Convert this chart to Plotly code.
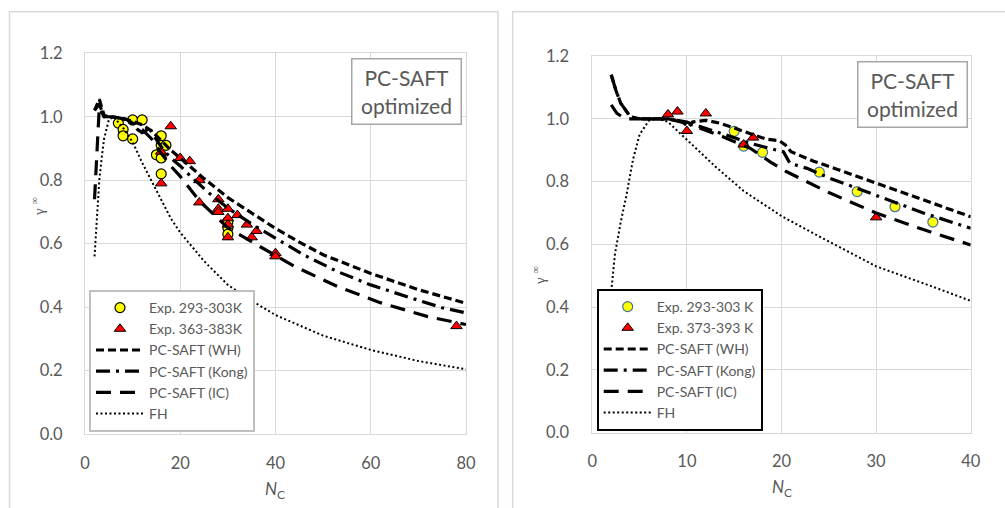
import plotly.graph_objects as go

# ---------------- data: left panel ----------------
L_exp1_x = [7, 8, 8, 10, 10, 12, 15, 16, 16, 16, 16, 17, 30, 30, 30]
L_exp1_y = [0.98, 0.96, 0.94, 0.99, 0.93, 0.99, 0.88, 0.94, 0.91, 0.87, 0.82, 0.91, 0.67, 0.65, 0.63]
L_exp2_x = [16, 16, 18, 20, 22, 24, 24, 28, 28, 28, 30, 30, 30, 30, 32, 34, 35, 36, 40, 40, 78]
L_exp2_y = [0.89, 0.79, 0.97, 0.87, 0.86, 0.80, 0.73, 0.74, 0.71, 0.70, 0.71, 0.68, 0.66, 0.62,
            0.69, 0.66, 0.62, 0.64, 0.57, 0.56, 0.34]
L_wh_x = [2, 3, 4, 5, 8, 10, 12, 14, 16, 18, 20, 25, 30, 35, 40, 45, 50, 60, 70, 80]
L_wh_y = [1.02, 1.055, 1.005, 1.0, 0.995, 0.985, 0.975, 0.955, 0.925, 0.895, 0.87, 0.805, 0.745,
          0.695, 0.648, 0.605, 0.565, 0.506, 0.455, 0.412]
L_kong_x = [2, 3, 4, 6, 9, 10, 11, 12, 12.8, 13.5, 14, 16, 18, 20, 22, 26, 30, 35, 40, 46, 53, 60, 68, 75, 80]
L_kong_y = [1.02, 1.04, 1.0, 1.0, 0.99, 0.975, 0.96, 0.95, 0.955, 0.97, 0.95, 0.905, 0.87, 0.845,
            0.815, 0.76, 0.712, 0.662, 0.617, 0.564, 0.512, 0.47, 0.431, 0.398, 0.382]
L_ic_x = [2, 3, 4, 6, 9, 12, 14, 16, 18, 20, 24, 30, 36, 44, 53, 62, 72, 77, 80]
L_ic_y = [0.74, 1.03, 1.0, 1.0, 0.99, 0.96, 0.93, 0.885, 0.845, 0.812, 0.735, 0.65, 0.597, 0.528,
          0.465, 0.414, 0.37, 0.354, 0.345]
L_fh_x = [2, 2.5, 3, 3.5, 4, 5, 6, 8, 10, 12, 15, 18, 20, 25, 30, 35, 40, 50, 60, 70, 80]
L_fh_y = [0.56, 0.69, 0.80, 0.87, 0.93, 0.99, 1.0, 0.965, 0.92, 0.855, 0.765, 0.68, 0.635, 0.545,
          0.47, 0.42, 0.375, 0.31, 0.265, 0.23, 0.204]

# ---------------- data: right panel ----------------
R_exp1_x = [15, 16, 18, 24, 28, 32, 36]
R_exp1_y = [0.96, 0.913, 0.893, 0.83, 0.768, 0.72, 0.671]
R_exp2_x = [8, 9, 10, 12, 16, 17, 30]
R_exp2_y = [1.014, 1.023, 0.961, 1.017, 0.918, 0.94, 0.686]
R_wh_x = [2, 2.5, 3, 4, 5, 8, 9.5, 10.2, 10.6, 12, 13.5, 16, 18.4, 19.8, 20.4, 21, 23.4, 26, 30, 35, 40]
R_wh_y = [1.14, 1.09, 1.05, 1.007, 1.0, 1.0, 0.99, 0.975, 0.99, 0.995, 0.986, 0.959, 0.935, 0.93,
          0.917, 0.895, 0.865, 0.838, 0.795, 0.74, 0.688]
R_kong_x = [2, 2.5, 3, 4, 5, 8, 10, 11.4, 14, 16.7, 19.5, 20.2, 20.9, 22.7, 25, 30, 35, 40]
R_kong_y = [1.14, 1.09, 1.05, 1.007, 1.0, 1.0, 0.985, 0.975, 0.95, 0.922, 0.9, 0.895, 0.858, 0.842,
            0.812, 0.755, 0.70, 0.651]
R_ic_x = [2, 2.6, 3.5, 5, 8, 10, 11.4, 13.8, 16.7, 18.8, 20.5, 22.3, 25, 30, 35, 40]
R_ic_y = [1.044, 1.017, 1.0, 1.0, 1.0, 0.99, 0.97, 0.943, 0.906, 0.863, 0.832, 0.805, 0.765, 0.70,
          0.647, 0.598]
R_fh_x = [2, 2.4, 3, 3.6, 4.3, 5, 6, 7, 8, 10, 13, 16, 20, 24, 30, 36, 40]
R_fh_y = [0.45, 0.57, 0.67, 0.755, 0.87, 0.95, 0.995, 1.0, 0.99, 0.932, 0.848, 0.77, 0.69, 0.625,
          0.53, 0.465, 0.42]

L_names = ["Exp. 293-303K", "Exp. 363-383K", "PC-SAFT (WH)", "PC-SAFT (Kong)", "PC-SAFT (IC)", "FH"]
R_names = ["Exp. 293-303 K", "Exp. 373-393 K", "PC-SAFT (WH)", "PC-SAFT (Kong)", "PC-SAFT (IC)", "FH"]

GRAY = "#595959"
GRID = "#D9D9D9"
W, H = 1005, 508

def px_x(p):
    return p / W

def px_y(p):
    return 1 - p / H

fig = go.Figure()

def add_panel(xa, ya, leg, names, e1x, e1y, e2x, e2y, whx, why, kx, ky, icx, icy, fhx, fhy, circ_line):
    common = dict(xaxis=xa, yaxis=ya, legend=leg)
    fig.add_trace(go.Scatter(x=e1x, y=e1y, mode="markers", name=names[0],
                             marker=dict(symbol="circle", size=10, color="#FFFF00",
                                         line=dict(color=circ_line, width=1.2)), **common))
    fig.add_trace(go.Scatter(x=e2x, y=e2y, mode="markers", name=names[1],
                             marker=dict(symbol="triangle-up", size=10, color="#FF0000",
                                         line=dict(color="#000000", width=1)), **common))
    fig.add_trace(go.Scatter(x=whx, y=why, mode="lines", name=names[2],
                             line=dict(color="black", width=3.2, dash="8px,4px"), **common))
    fig.add_trace(go.Scatter(x=kx, y=ky, mode="lines", name=names[3],
                             line=dict(color="black", width=3.2, dash="14px,6px,3px,6px"), **common))
    fig.add_trace(go.Scatter(x=icx, y=icy, mode="lines", name=names[4],
                             line=dict(color="black", width=3.2, dash="15px,9px"), **common))
    fig.add_trace(go.Scatter(x=fhx, y=fhy, mode="lines", name=names[5],
                             line=dict(color="black", width=2, dash="2px,2.5px"), **common))

add_panel("x", "y", "legend", L_names, L_exp1_x, L_exp1_y, L_exp2_x, L_exp2_y,
          L_wh_x, L_wh_y, L_kong_x, L_kong_y, L_ic_x, L_ic_y, L_fh_x, L_fh_y, "#000000")
add_panel("x2", "y2", "legend2", R_names, R_exp1_x, R_exp1_y, R_exp2_x, R_exp2_y,
          R_wh_x, R_wh_y, R_kong_x, R_kong_y, R_ic_x, R_ic_y, R_fh_x, R_fh_y, "#41719C")

tickfont = dict(family="Lato", size=16.5, color=GRAY)
axis_common = dict(showgrid=True, gridcolor=GRID, gridwidth=1, zeroline=False,
                   showline=True, linecolor=GRID, linewidth=1, mirror=True,
                   ticks="", tickfont=tickfont, automargin=False)

legfont = dict(family="Lato", size=14, color=GRAY)

fig.update_layout(
    width=W, height=H,
    margin=dict(l=0, r=0, t=0, b=0, autoexpand=False),
    paper_bgcolor="white", plot_bgcolor="white",
    font=dict(family="Lato", color=GRAY),
    xaxis=dict(domain=[px_x(85), px_x(466)], range=[0, 80], dtick=20, anchor="y",
               ticklabelstandoff=14, **axis_common),
    yaxis=dict(domain=[px_y(434), px_y(53.3)], range=[0, 1.2], dtick=0.2, tickformat=".1f",
               anchor="x", ticklabelstandoff=18, **axis_common),
    xaxis2=dict(domain=[px_x(592.3), px_x(970.7)], range=[0, 40], dtick=10, anchor="y2",
                ticklabelstandoff=13, **axis_common),
    yaxis2=dict(domain=[px_y(432.7), px_y(56)], range=[0, 1.2], dtick=0.2, tickformat=".1f",
                anchor="x2", ticklabelstandoff=19, **axis_common),
    legend=dict(x=px_x(89), y=px_y(290), xanchor="left", yanchor="top",
                bgcolor="white", bordercolor="#BFBFBF", borderwidth=2,
                font=legfont, itemwidth=48, tracegroupgap=0),
    legend2=dict(x=px_x(596.7), y=px_y(289), xanchor="left", yanchor="top",
                 bgcolor="white", bordercolor="#000000", borderwidth=2,
                 font=legfont, itemwidth=48, tracegroupgap=0),
)

# chart frames
shapes = [
    dict(type="rect", xref="paper", yref="paper", x0=px_x(9.5), x1=px_x(498), y0=-0.05, y1=px_y(11.7),
         line=dict(color=GRID, width=1.5), fillcolor="rgba(0,0,0,0)", layer="below"),
    dict(type="rect", xref="paper", yref="paper", x0=px_x(512.7), x1=1.05, y0=-0.05, y1=px_y(11.7),
         line=dict(color=GRID, width=1.5), fillcolor="rgba(0,0,0,0)", layer="below"),
]
fig.update_layout(shapes=shapes)

ann = []
for (cx, cy) in [(406.5, 91.3), (912, 94)]:
    ann.append(dict(xref="paper", yref="paper", x=px_x(cx), y=px_y(cy), xanchor="center",
                    yanchor="middle", showarrow=False, text="PC-SAFT<br>optimized",
                    font=dict(family="Lato", size=21, color=GRAY), align="center",
                    bgcolor="white", bordercolor="#A6A6A6", borderwidth=1.5, borderpad=2,
                    width=104, height=60))
for (cx, cy) in [(38, 207), (539, 276)]:
    ann.append(dict(xref="paper", yref="paper", x=px_x(cx), y=px_y(cy), xanchor="center",
                    yanchor="middle", showarrow=False, textangle=-90,
                    text="γ <sup>∞</sup>", font=dict(family="Liberation Serif", size=15, color=GRAY)))
for (cx, cy) in [(275, 490), (782, 488)]:
    ann.append(dict(xref="paper", yref="paper", x=px_x(cx), y=px_y(cy), xanchor="center",
                    yanchor="middle", showarrow=False,
                    text="<i>N</i><sub>C</sub>", font=dict(family="Lato", size=17, color=GRAY)))
fig.update_layout(annotations=ann)

fig.write_html("out.html")
